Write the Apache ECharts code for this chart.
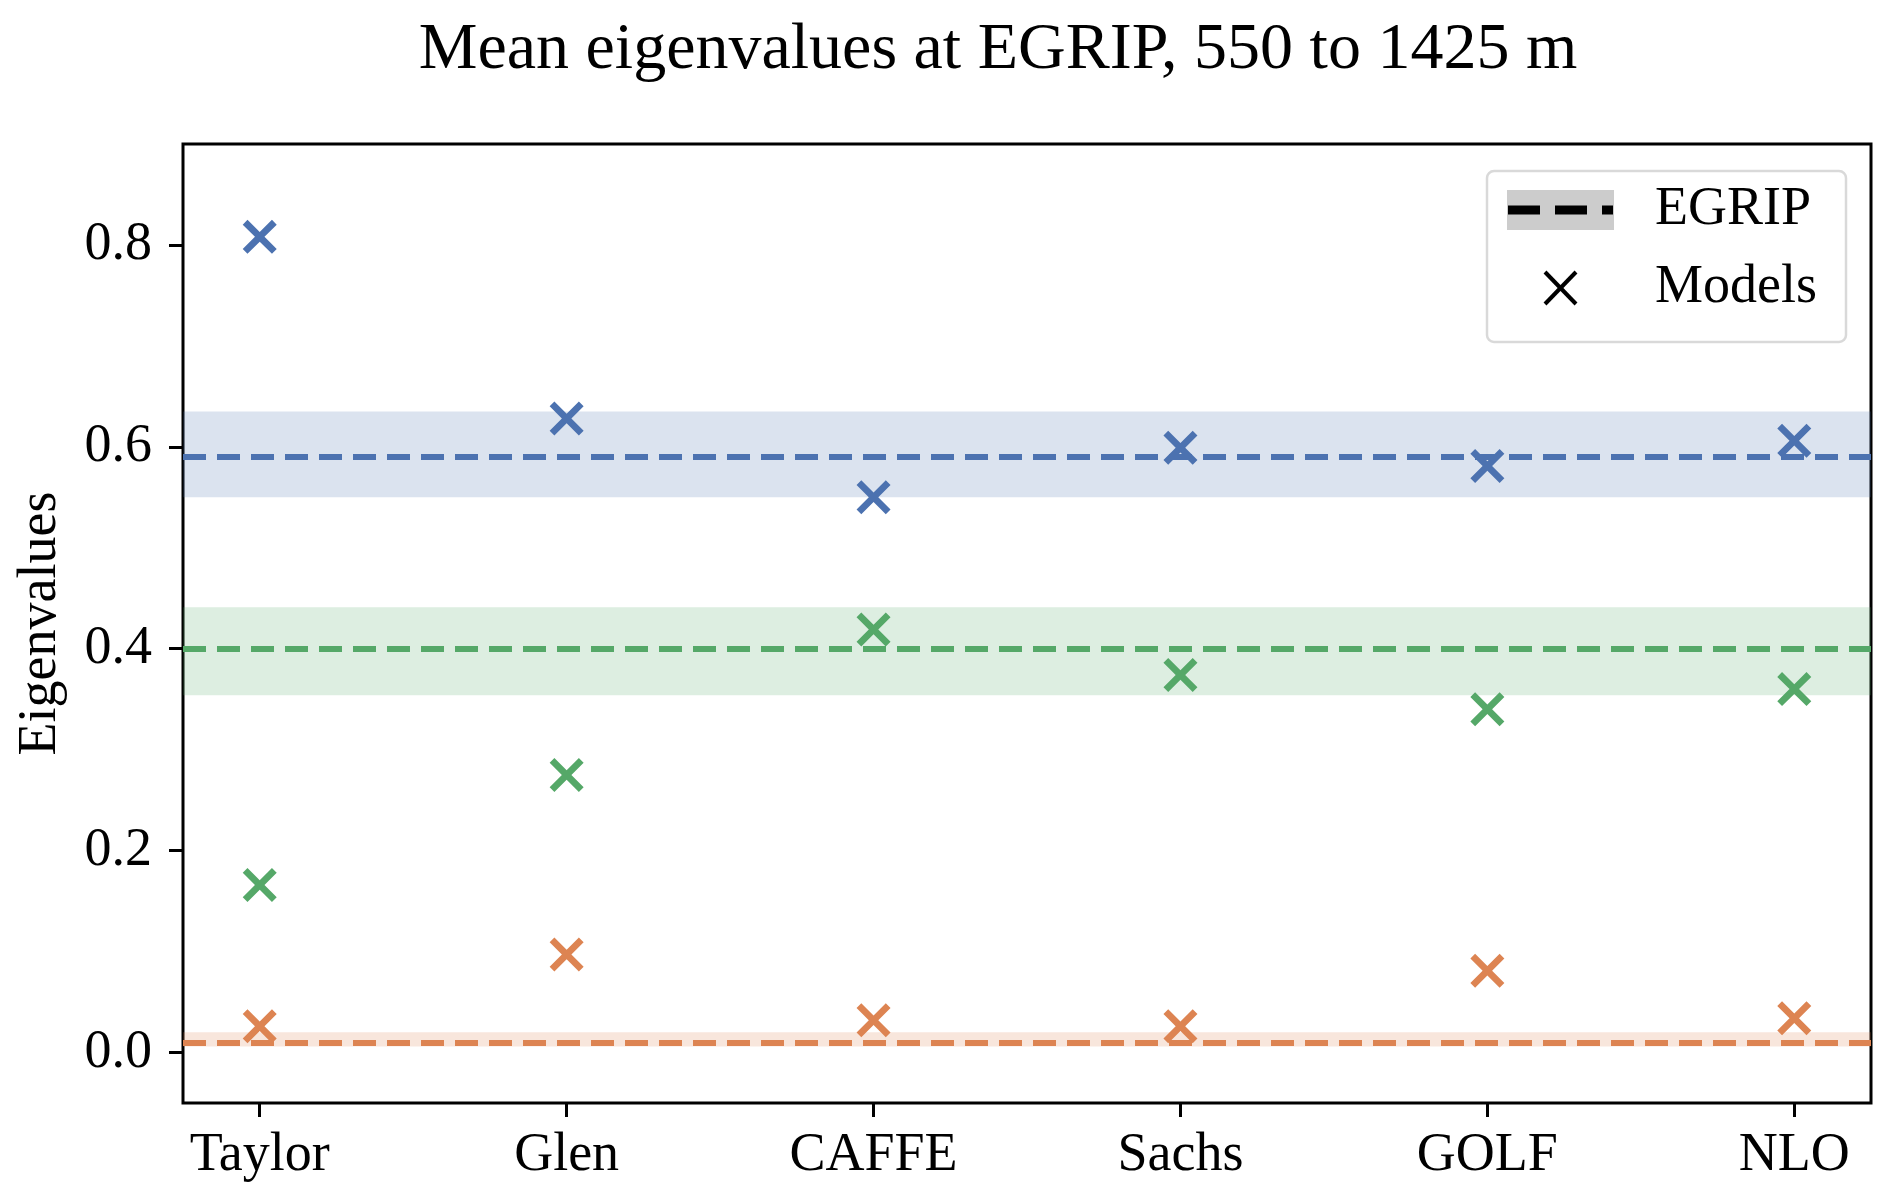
<!DOCTYPE html>
<html>
<head>
<meta charset="utf-8">
<script src="https://cdn.jsdelivr.net/npm/echarts@6/dist/echarts.min.js"></script>
<style>
html,body{margin:0;padding:0;background:#ffffff;}
#chart{width:1892px;height:1204px;}
</style>
</head>
<body>
<div id="chart"></div>
<script>
// ---- data ----
const categories = ['Taylor', 'Glen', 'CAFFE', 'Sachs', 'GOLF', 'NLO'];
const lambda1 = [0.808, 0.628, 0.550, 0.599, 0.581, 0.606];   // blue
const lambda2 = [0.166, 0.275, 0.419, 0.374, 0.340, 0.360];   // green
const lambda3 = [0.026, 0.097, 0.032, 0.026, 0.081, 0.034];   // orange
const egripMean = [0.590, 0.397, 0.013];
const egripLow  = [0.550, 0.354, 0.006];
const egripHigh = [0.635, 0.441, 0.020];
const yTicks = [0.0, 0.2, 0.4, 0.6, 0.8];
const titleText = 'Mean eigenvalues at EGRIP, 550 to 1425 m';
const yLabel = 'Eigenvalues';
const legendLabels = ['EGRIP', 'Models'];

// ---- styling ----
const FONT = 'Liberation Serif';
const colors = ['#4C72B0', '#55A868', '#DD8452'];
const bandColors = ['rgba(76,114,176,0.2)', 'rgba(85,168,104,0.2)', 'rgba(221,132,82,0.2)'];
const X_PATH = 'path://M14,0L50,36L86,0L100,14L64,50L100,86L86,100L50,64L14,100L0,86L36,50L0,14Z';
const xTickValues = categories.map((_, i) => i);

const valueSets = [lambda1, lambda2, lambda3];
const series = valueSets.map((vals, k) => ({
  type: 'scatter',
  name: 'lambda' + (k + 1),
  data: vals.map((v, i) => [i, v]),
  symbol: X_PATH,
  symbolSize: 34,
  itemStyle: { color: colors[k], opacity: 1 },
  z: 5,
  markArea: {
    silent: true,
    itemStyle: { color: bandColors[k], borderWidth: 0 },
    data: [[{ yAxis: egripLow[k] }, { yAxis: egripHigh[k] }]],
    z: 1
  },
  markLine: {
    silent: true,
    symbol: ['none', 'none'],
    label: { show: false },
    lineStyle: { color: colors[k], width: 6, type: [23, 11], opacity: 1 },
    emphasis: { disabled: true },
    data: [{ yAxis: egripMean[k] }],
    z: 2
  }
}));

const chart = echarts.init(document.getElementById('chart'), null, { renderer: 'canvas' });
chart.setOption({
  backgroundColor: '#ffffff',
  animation: false,
  grid: {
    left: 183, right: 21, top: 144, bottom: 101,
    show: true, borderColor: '#000', borderWidth: 3, backgroundColor: 'transparent'
  },
  xAxis: {
    type: 'value',
    min: -0.25, max: 5.25,
    axisLine: { show: false, onZero: false },
    splitLine: { show: false },
    axisTick: { show: true, inside: false, customValues: xTickValues, length: 14, lineStyle: { color: '#000', width: 3 } },
    axisLabel: {
      customValues: xTickValues,
      margin: 26,
      color: '#000', fontFamily: FONT, fontSize: 54,
      formatter: v => categories[Math.round(v)] || ''
    }
  },
  yAxis: {
    type: 'value',
    min: -0.05, max: 0.9,
    name: yLabel,
    nameLocation: 'middle',
    nameGap: 115,
    nameTextStyle: { color: '#000', fontFamily: FONT, fontSize: 54 },
    axisLine: { show: false, onZero: false },
    splitLine: { show: false },
    axisTick: { show: true, inside: false, customValues: yTicks, length: 14, lineStyle: { color: '#000', width: 3 } },
    axisLabel: {
      customValues: yTicks,
      margin: 31,
      color: '#000', fontFamily: FONT, fontSize: 54,
      formatter: v => Number(v).toFixed(1)
    }
  },
  series: series,
  graphic: [
    { type: 'text', x: 998, y: 51, z: 10,
      style: { text: titleText, fill: '#000', font: '66px "' + FONT + '"', align: 'center', verticalAlign: 'middle' } },
    { type: 'rect', z: 10, shape: { x: 1487, y: 171, width: 359, height: 171, r: 7 },
      style: { fill: 'rgba(255,255,255,0.8)', stroke: '#d9d9d9', lineWidth: 2.5 } },
    { type: 'rect', z: 11, shape: { x: 1507, y: 190, width: 107, height: 40 },
      style: { fill: '#cccccc' } },
    { type: 'line', z: 12, shape: { x1: 1508, y1: 210, x2: 1613, y2: 210 },
      style: { stroke: '#000', lineWidth: 9, lineDash: [32, 15] } },
    { type: 'text', x: 1655, y: 210, z: 12,
      style: { text: legendLabels[0], fill: '#000', font: '54px "' + FONT + '"', align: 'left', verticalAlign: 'middle' } },
    { type: 'line', z: 12, shape: { x1: 1545, y1: 272, x2: 1576, y2: 304 },
      style: { stroke: '#000', lineWidth: 4 } },
    { type: 'line', z: 12, shape: { x1: 1576, y1: 272, x2: 1545, y2: 304 },
      style: { stroke: '#000', lineWidth: 4 } },
    { type: 'text', x: 1655, y: 288, z: 12,
      style: { text: legendLabels[1], fill: '#000', font: '54px "' + FONT + '"', align: 'left', verticalAlign: 'middle' } }
  ]
});
</script>
</body>
</html>
